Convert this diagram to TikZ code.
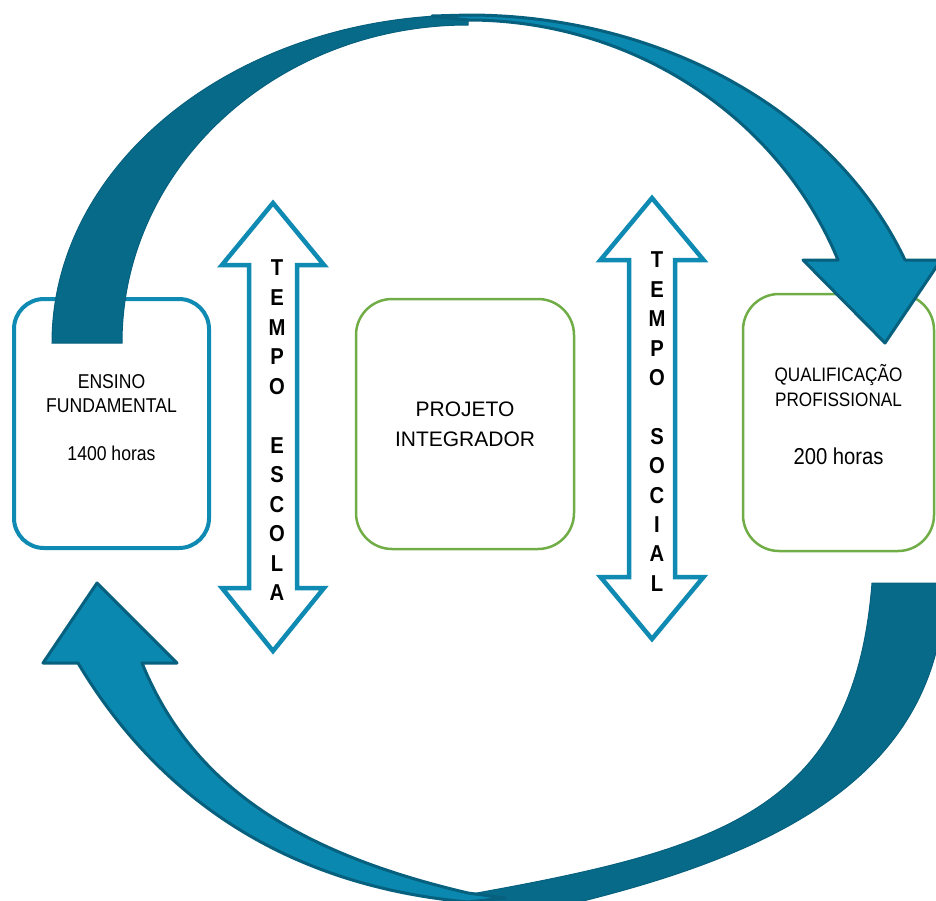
\documentclass[tikz,border=0pt]{standalone}
\usepackage{fontspec}
\setmainfont{Liberation Sans}
\newfontfamily\narrowsf[FakeStretch=0.88]{Liberation Sans}
\definecolor{arrowblue}{HTML}{0F8AB2}
\definecolor{bandlight}{HTML}{0A88AF}
\definecolor{banddark}{HTML}{086A89}
\definecolor{bandedge}{HTML}{06607E}
\definecolor{boxgreen}{HTML}{70AD47}
\tikzset{
  bluebox/.style={draw=arrowblue, line width=4pt, rounded corners=30pt, align=center},
  greenbox/.style={draw=boxgreen, line width=2.5pt, rounded corners=36pt, align=center},
  timearrow/.style={draw=arrowblue, fill=white, line width=4.5pt},
  vletter/.style={font=\narrowsf\fontsize{23}{23}\selectfont\bfseries, inner sep=0pt},
  band/.style={fill=bandlight, draw=bandedge, line width=3pt, line join=round},
  backband/.style={fill=banddark, draw=bandedge, line width=1pt}
}
\begin{document}
\begin{tikzpicture}[x=1pt, y=-1pt]
  \useasboundingbox (0,0) rectangle (936,900);
  \clip (0,0) rectangle (936,900);

  % the three blocks
  \node[bluebox, minimum width=195pt, minimum height=249pt, text depth=12pt,
        font=\narrowsf\fontsize{20}{24}\selectfont] (ensino) at (111.5,423.5)
        {ENSINO\\FUNDAMENTAL\\[24.5pt]1400 horas};
  \node[greenbox, minimum width=218pt, minimum height=250pt,
        font=\fontsize{21}{30}\selectfont] (projeto) at (465,424)
        {PROJETO\\INTEGRADOR};
  \node[greenbox, minimum width=191pt, minimum height=257pt, text depth=17pt,
        font=\narrowsf\fontsize{19.5}{25}\selectfont] (qualif) at (838.5,422.5)
        {QUALIFICAÇÃO\\PROFISSIONAL\\[33pt]{\fontsize{23}{25}\selectfont 200 horas}};

  % tempo escola / tempo social
  \draw[timearrow] (273,203) -- (324,265) -- (297,265) -- (297,588) -- (324,588)
    -- (273,651) -- (222,588) -- (249,588) -- (249,265) -- (222,265) -- cycle;
  \draw[timearrow] (652,198) -- (703.5,260) -- (675,260) -- (675,577) -- (703.5,577)
    -- (652,639) -- (600.5,577) -- (629,577) -- (629,260) -- (600.5,260) -- cycle;
  \foreach \l [count=\i] in {T,E,M,P,O,{},E,S,C,O,L,A}
    \node[vletter] (escola\i) at (277,{268+29.55*(\i-1)}) {\l};
  \foreach \l [count=\i] in {T,E,M,P,O,{},S,O,C,I,A,L}
    \node[vletter] (social\i) at (657,{260+29.4*(\i-1)}) {\l};

  % cycle arrows
  \draw[backband] (52,343) .. controls (52,162) and (238,15) .. (468,15)
    -- (468,25) .. controls (277,25) and (122,167) .. (122,343) -- cycle;
  \draw[band] (468,15) .. controls (662,15) and (835,112) .. (905,260)
    -- (941,260) -- (885,343) -- (803,260) -- (838,260)
    .. controls (778,115) and (631,20) .. (468,20) -- (432,16) -- cycle;
  \draw[backband] (872,583) -- (945,583) .. controls (942,803) and (725,875) .. (475,925)
    -- (460,896) .. controls (718,850) and (854,813) .. (872,583) -- cycle;
  \draw[band] (468,902) .. controls (280,885) and (155,792) .. (78,663)
    -- (43,663) -- (97,583) -- (177,663) -- (142,663)
    .. controls (191,783) and (293,852) .. (468,893) -- (505,898) -- cycle;
\end{tikzpicture}
\end{document}
